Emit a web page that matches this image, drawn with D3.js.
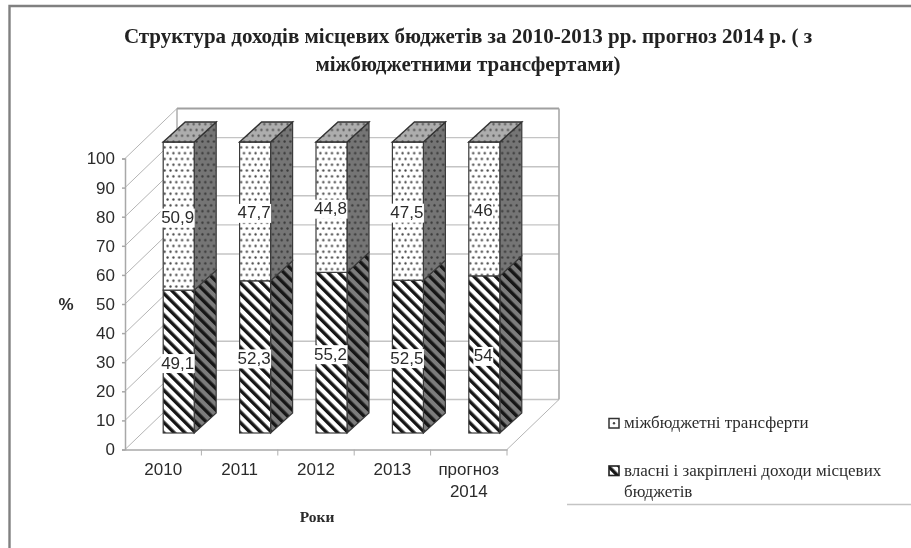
<!DOCTYPE html>
<html>
<head>
<meta charset="utf-8">
<script src="https://cdn.jsdelivr.net/npm/d3@7"></script>
<style>
  body { margin: 0; background: #fff; }
  svg { display: block; }
  .serif { font-family: "Liberation Serif", serif; }
  .sans { font-family: "Liberation Sans", Arial, sans-serif; }
</style>
</head>
<body>
<div id="container"></div>
<script>
let w = 911;
let h = 548;

let categories = ["2010", "2011", "2012", "2013", "прогноз 2014"];
let ownRevenue = [49.1, 52.3, 55.2, 52.5, 54];
let transfers = [50.9, 47.7, 44.8, 47.5, 46];
let yTicks = [0, 10, 20, 30, 40, 50, 60, 70, 80, 90, 100];
// the 30 and 40 lines are washed out of the scan on the back wall
let backGrid = [0, 10, 20, 50, 60, 70, 80, 90, 100];
let titleLines = [
  "Структура доходів місцевих бюджетів за 2010-2013 рр. прогноз 2014 р. ( з",
  "міжбюджетними трансфертами)"
];
let legendOwn = ["власні і закріплені доходи місцевих", "бюджетів"];
let legendTransfers = "міжбюджетні трансферти";

let viz = d3.select("#container")
  .append("svg")
    .attr("width", w)
    .attr("height", h)
    .style("background-color", "white")
;

let defs = viz.append("defs");

// the reference is a soft scan
defs.append("filter").attr("id", "scan")
    .attr("filterUnits", "userSpaceOnUse")
    .attr("x", 0).attr("y", 0)
    .attr("width", w).attr("height", h)
  .append("feGaussianBlur").attr("stdDeviation", 0.55);

function stripes(id, bg) {
  let p = defs.append("pattern").attr("id", id)
      .attr("patternUnits", "userSpaceOnUse")
      .attr("width", 7.6).attr("height", 7.6)
      .attr("patternTransform", "rotate(-45)");
  p.append("rect").attr("width", 7.6).attr("height", 7.6).attr("fill", bg);
  p.append("rect").attr("width", 3.4).attr("height", 7.6).attr("fill", "#161616");
}

function dots(id, bg, dot) {
  let p = defs.append("pattern").attr("id", id)
      .attr("patternUnits", "userSpaceOnUse")
      .attr("width", 11.6).attr("height", 11.6);
  p.append("rect").attr("width", 11.6).attr("height", 11.6).attr("fill", bg);
  [[1.5, 1.5], [7.3, 1.5], [4.4, 7.3], [10.2, 7.3]].forEach(function(c) {
    p.append("circle").attr("cx", c[0]).attr("cy", c[1]).attr("r", 1.15).attr("fill", dot);
  });
}

stripes("ownFront", "#ffffff");
stripes("ownSide", "#7c7c7c");
dots("transFront", "#ffffff", "#444444");
dots("transSide", "#757575", "#383838");
dots("transTop", "#adadad", "#555555");

let root = viz.append("g").attr("filter", "url(#scan)");

// frame, only top and left
root.append("path")
    .attr("d", "M9.5," + h + "V6H" + w)
    .attr("fill", "none")
    .attr("stroke", "#808080")
    .attr("stroke-width", 2.4)
;

// title
root.append("g").selectAll("text").data(titleLines).enter()
  .append("text")
    .attr("class", "serif")
    .attr("x", 468)
    .attr("y", function(d, i) { return 43 + i * 28; })
    .attr("text-anchor", "middle")
    .attr("font-weight", "bold")
    .attr("font-size", 21)
    .attr("fill", "#222")
    .text(function(d) { return d; })
;

// scales
let xScale = d3.scaleBand().domain(categories).range([125, 507]);
let yScale = d3.scaleLinear().domain([0, 100]).range([449.5, 158.5]);

// wall depth and bar placement inside the 3d box
let depthX = 52;
let depthY = -50;
let barOffsetY = -16.5;
let barWidth = 31;
let sideX = 22;
let sideY = -20;

// walls
let walls = root.append("g").attr("fill", "none");

walls.selectAll(".backline").data(backGrid).enter()
  .append("line")
    .attr("class", "backline")
    .attr("x1", 125 + depthX)
    .attr("x2", 507 + depthX)
    .attr("y1", function(d) { return yScale(d) + depthY; })
    .attr("y2", function(d) { return yScale(d) + depthY; })
    .attr("stroke", function(d) { return d == 100 ? "#a0a0a0" : "#c4c4c4"; })
    .attr("stroke-width", function(d) { return d == 100 ? 2 : 1.4; })
;
walls.selectAll(".sideline").data(yTicks).enter()
  .append("line")
    .attr("class", "sideline")
    .attr("x1", 125)
    .attr("x2", 125 + depthX)
    .attr("y1", function(d) { return yScale(d); })
    .attr("y2", function(d) { return yScale(d) + depthY; })
    .attr("stroke", "#b4b4b4")
    .attr("stroke-width", 1)
;
walls.append("line")
    .attr("x1", 125 + depthX).attr("x2", 125 + depthX)
    .attr("y1", yScale(100) + depthY).attr("y2", yScale(0) + depthY)
    .attr("stroke", "#a8a8a8").attr("stroke-width", 1.4)
;
walls.append("line")
    .attr("x1", 507 + depthX).attr("x2", 507 + depthX)
    .attr("y1", yScale(100) + depthY).attr("y2", yScale(0) + depthY)
    .attr("stroke", "#a8a8a8").attr("stroke-width", 1.6)
;
walls.append("line")
    .attr("x1", 507).attr("x2", 507 + depthX)
    .attr("y1", yScale(0)).attr("y2", yScale(0) + depthY)
    .attr("stroke", "#b4b4b4").attr("stroke-width", 1)
;

// axes
let yAxis = d3.axisLeft(yScale).tickValues(yTicks).tickSize(3).tickPadding(7);
let yAxisGroup = root.append("g").attr("class", "yaxis")
    .attr("transform", "translate(125,0)")
    .call(yAxis);

let xAxis = d3.axisBottom(xScale).tickSize(0).tickPadding(0).tickFormat("");
let xAxisGroup = root.append("g").attr("class", "xaxis")
    .attr("transform", "translate(0," + yScale(0) + ")")
    .call(xAxis);

xAxisGroup.selectAll(".edge").data(categories).enter()
  .append("line")
    .attr("class", "edge")
    .attr("x1", function(d) { return xScale(d) + xScale.bandwidth(); })
    .attr("x2", function(d) { return xScale(d) + xScale.bandwidth(); })
    .attr("y1", 0)
    .attr("y2", 6)
    .attr("stroke", "#b0b0b0")
;

root.selectAll(".yaxis path, .yaxis line, .xaxis path")
    .attr("stroke", "#a8a8a8")
    .attr("stroke-width", 1.5)
;
yAxisGroup.selectAll("text")
    .attr("class", "sans")
    .attr("font-size", 17)
    .attr("fill", "#2c2c2c")
;

// category labels, the last one wraps
let catLabels = root.append("g").selectAll("text").data(categories).enter()
  .append("text")
    .attr("class", "sans")
    .attr("text-anchor", "middle")
    .attr("font-size", 17)
    .attr("fill", "#2c2c2c")
;
catLabels.each(function(d) {
  let cx = xScale(d) + xScale.bandwidth() / 2;
  d3.select(this).selectAll("tspan").data(d.split(" ")).enter()
    .append("tspan")
      .attr("x", cx)
      .attr("y", function(t, i) { return 475 + i * 22; })
      .text(function(t) { return t; });
});

// axis titles
root.append("text")
    .attr("class", "sans")
    .attr("x", 66).attr("y", 310)
    .attr("text-anchor", "middle")
    .attr("font-weight", "bold")
    .attr("font-size", 17)
    .attr("fill", "#2c2c2c")
    .text("%")
;
root.append("text")
    .attr("class", "serif")
    .attr("x", 317).attr("y", 522)
    .attr("text-anchor", "middle")
    .attr("font-weight", "bold")
    .attr("font-size", 15.5)
    .attr("fill", "#2c2c2c")
    .text("Роки")
;

// stacked bars
let stackInput = categories.map(function(c, i) {
  return { category: c, own: ownRevenue[i], transfers: transfers[i] };
});
let series = d3.stack().keys(["own", "transfers"])(stackInput);

let barGroups = root.selectAll(".bar").data(stackInput).enter()
  .append("g")
    .attr("class", "bar")
    .attr("transform", function(d) {
      let x = xScale(d.category) + xScale.bandwidth() / 2;
      return "translate(" + x + "," + barOffsetY + ")";
    })
;

function sidePath(y0, y1) {
  return "M" + barWidth + "," + y0 +
    "L" + (barWidth + sideX) + "," + (y0 + sideY) +
    "V" + (y1 + sideY) +
    "L" + barWidth + "," + y1 + "Z";
}

series.forEach(function(s) {
  let front = s.key == "own" ? "url(#ownFront)" : "url(#transFront)";
  let side = s.key == "own" ? "url(#ownSide)" : "url(#transSide)";
  barGroups.each(function(d, i) {
    let g = d3.select(this);
    let y0 = yScale(s[i][0]);
    let y1 = yScale(s[i][1]);
    g.append("path")
        .attr("d", sidePath(y0, y1))
        .attr("fill", side)
        .attr("stroke", "#3a3a3a")
        .attr("stroke-width", 1.2)
    ;
    g.append("rect")
        .attr("x", 0).attr("y", y1)
        .attr("width", barWidth).attr("height", y0 - y1)
        .attr("fill", front)
        .attr("stroke", "#3a3a3a")
        .attr("stroke-width", 1.2)
    ;
  });
});

// top face
barGroups.append("path")
    .attr("d", function() {
      let t = yScale(100);
      return "M0," + t + "L" + sideX + "," + (t + sideY) +
        "H" + (barWidth + sideX) + "L" + barWidth + "," + t + "Z";
    })
    .attr("fill", "url(#transTop)")
    .attr("stroke", "#333")
    .attr("stroke-width", 1.4)
;

// value labels on white plates
function formatValue(v) { return String(v).replace(".", ","); }

series.forEach(function(s) {
  barGroups.each(function(d, i) {
    let g = d3.select(this);
    let mid = yScale((s[i][0] + s[i][1]) / 2);
    let plate = g.append("rect").attr("fill", "white");
    let label = g.append("text")
        .attr("class", "sans")
        .attr("x", barWidth / 2 - 1)
        .attr("y", mid + 7)
        .attr("text-anchor", "middle")
        .attr("font-size", 17)
        .attr("fill", "#2c2c2c")
        .text(formatValue(s[i].data[s.key]))
    ;
    let box = label.node().getBBox();
    plate.attr("x", box.x - 0.5).attr("y", box.y + 0.5)
        .attr("width", box.width + 1).attr("height", box.height);
  });
});

// legend
let legend = root.append("g").attr("class", "serif").attr("font-size", 17).attr("fill", "#2c2c2c");

legend.append("rect")
    .attr("x", 609).attr("y", 418.5).attr("width", 10).attr("height", 9.5)
    .attr("fill", "white").attr("stroke", "#333").attr("stroke-width", 1.5)
;
legend.append("circle")
    .attr("cx", 614).attr("cy", 423.2).attr("r", 1.2).attr("fill", "#444")
;
legend.append("text").attr("x", 624).attr("y", 428).text(legendTransfers);

legend.append("rect")
    .attr("x", 609).attr("y", 466).attr("width", 10).attr("height", 9.5)
    .attr("fill", "url(#ownFront)").attr("stroke", "#222").attr("stroke-width", 1.6)
;
legend.selectAll(".owntext").data(legendOwn).enter()
  .append("text")
    .attr("class", "owntext")
    .attr("x", 624)
    .attr("y", function(d, i) { return 475.5 + i * 21.5; })
    .text(function(d) { return d; })
;

root.append("line")
    .attr("x1", 567).attr("x2", w)
    .attr("y1", 504.5).attr("y2", 504.5)
    .attr("stroke", "#c4c4c4").attr("stroke-width", 1.6)
;
</script>
</body>
</html>
